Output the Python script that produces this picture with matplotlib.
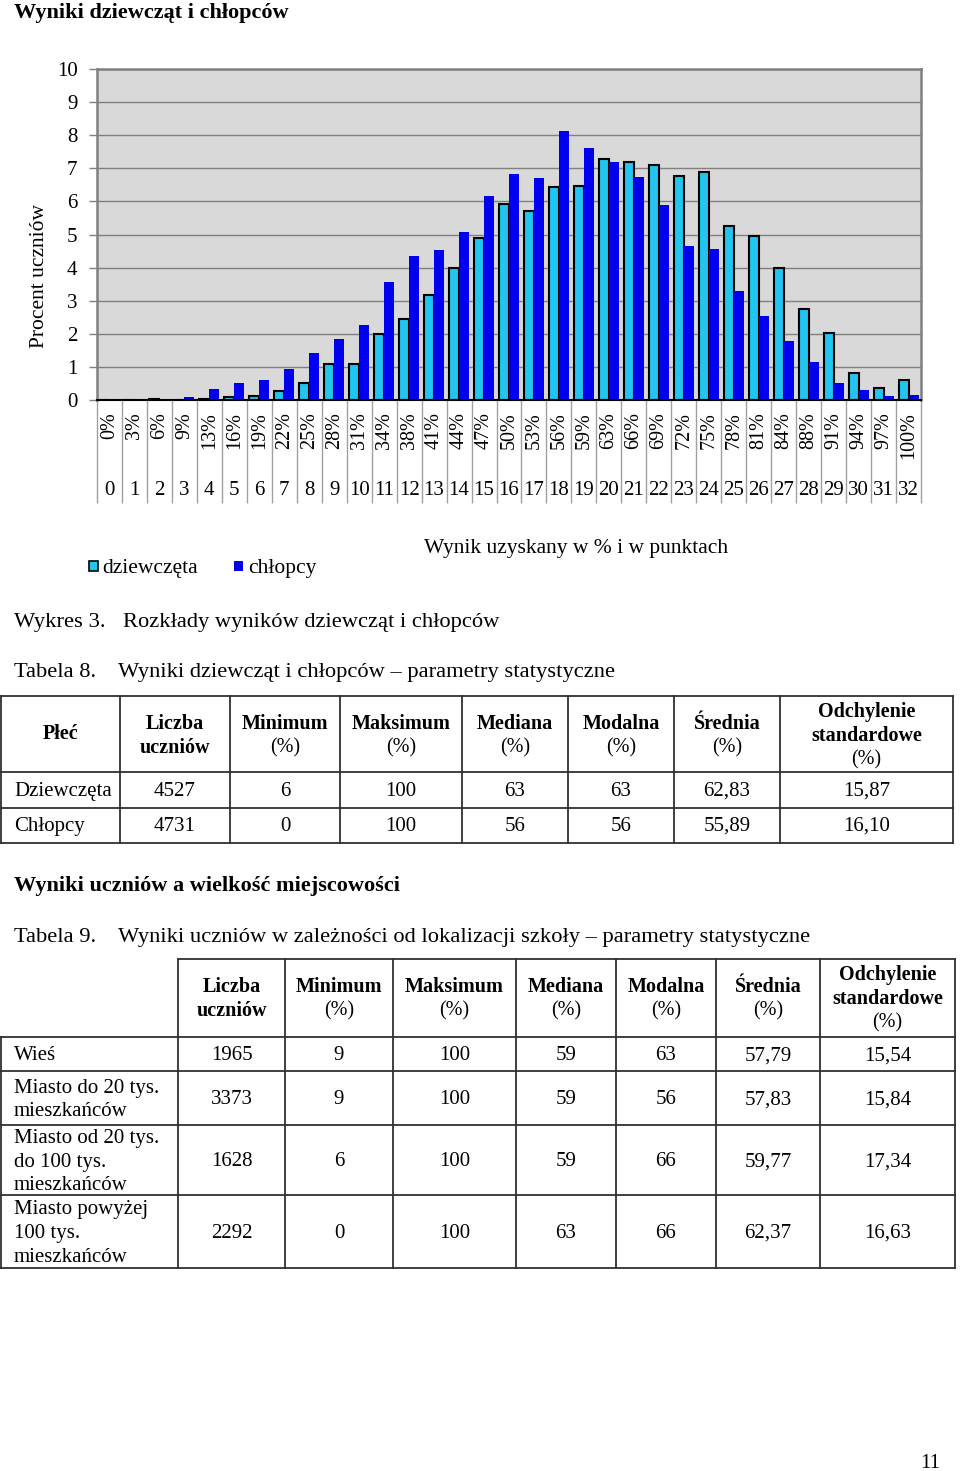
import numpy as np
import matplotlib
matplotlib.use("Agg")
import matplotlib.pyplot as plt
from matplotlib.transforms import blended_transform_factory
from matplotlib.patches import Rectangle

plt.rcParams['font.family'] = ['Liberation Serif', 'DejaVu Serif']

# --- dane wykresu ---
punkty = list(range(33))
procenty = ["0%", "3%", "6%", "9%", "13%", "16%", "19%", "22%", "25%", "28%",
            "31%", "34%", "38%", "41%", "44%", "47%", "50%", "53%", "56%", "59%",
            "63%", "66%", "69%", "72%", "75%", "78%", "81%", "84%", "88%", "91%",
            "94%", "97%", "100%"]
dziewczeta = [0, 0, 0.04, 0, 0.04, 0.08, 0.12, 0.27, 0.51, 1.10,
              1.10, 2.00, 2.46, 3.17, 4.00, 4.88, 5.93, 5.71, 6.44, 6.46,
              7.28, 7.20, 7.11, 6.76, 6.90, 5.25, 4.96, 3.98, 2.75, 2.02,
              0.83, 0.35, 0.59]
chlopcy = [0.02, 0, 0.01, 0.09, 0.34, 0.51, 0.61, 0.95, 1.42, 1.85,
           2.28, 3.57, 4.36, 4.52, 5.07, 6.17, 6.84, 6.72, 8.13, 7.62,
           7.19, 6.74, 5.88, 4.65, 4.55, 3.28, 2.54, 1.79, 1.14, 0.52,
           0.29, 0.12, 0.15]

# --- dane tabel ---
kolumny = ["Liczba\nuczniów", "Minimum\n(%)", "Maksimum\n(%)", "Mediana\n(%)",
           "Modalna\n(%)", "Średnia\n(%)", "Odchylenie\nstandardowe\n(%)"]
plec = ["Dziewczęta", "Chłopcy"]
tab8 = [["4527", "6", "100", "63", "63", "62,83", "15,87"],
        ["4731", "0", "100", "56", "56", "55,89", "16,10"]]
miejscowosci = ["Wieś", "Miasto do 20 tys.\nmieszkańców",
                "Miasto od 20 tys.\ndo 100 tys.\nmieszkańców",
                "Miasto powyżej\n100 tys.\nmieszkańców"]
tab9 = [["1965", "9", "100", "59", "63", "57,79", "15,54"],
        ["3373", "9", "100", "59", "56", "57,83", "15,84"],
        ["1628", "6", "100", "59", "66", "59,77", "17,34"],
        ["2292", "0", "100", "63", "66", "62,37", "16,63"]]

W, H = 960, 1471
fig = plt.figure(figsize=(W / 100, H / 100), dpi=100)
fig.patch.set_facecolor("white")

# strona w pikselach (y w dol)
page = fig.add_axes([0, 0, 1, 1])
page.set_xlim(0, W)
page.set_ylim(H, 0)
page.axis("off")

FS = 15      # tabele, osie
FC = 16.2    # podpisy
FL = 15.5    # legenda
page.text(14, 18, "Wyniki dziewcząt i chłopców", fontsize=16, fontweight="bold",
          va="baseline")

# --- wykres ---
ax = fig.add_axes([97 / W, 1 - 400 / H, 824 / W, 331 / H])
ax.set_facecolor("#D9D9D9")
x = np.array(punkty)
ax.bar(x - 0.2, dziewczeta, width=0.4, color="#22C4F0", edgecolor="black",
       linewidth=1.5, zorder=3, label="dziewczęta")
ax.bar(x + 0.2, chlopcy, width=0.4, color="#0000EE", edgecolor="none",
       zorder=3, label="chłopcy")
ax.set_xlim(-0.5, 32.5)
ax.set_ylim(0, 10)
ax.set_yticks(range(0, 11))
ax.set_xticks([])
ax.yaxis.grid(True, color="#808080", linewidth=1)
ax.set_axisbelow(True)
ax.tick_params(axis="y", direction="out", length=6, width=1, color="#808080",
               pad=8, labelsize=FS)
for s in ["top", "right", "left"]:
    ax.spines[s].set_color("#808080")
    ax.spines[s].set_linewidth(1.8)
ax.spines["bottom"].set_color("black")
ax.spines["bottom"].set_linewidth(1.5)
ax.spines["bottom"].set_zorder(4)
page.text(40, 276, "Procent uczniów", rotation=90, ha="center", va="center",
          fontsize=FL)

trans = blended_transform_factory(ax.transData, page.transData)
ax.vlines(np.arange(-0.5, 33, 1), 400, 503, transform=trans, colors="#A0A0A0",
          linewidth=1, clip_on=False)
for i in punkty:
    ax.text(i, 412, procenty[i], transform=trans, rotation=90, ha="center",
            va="top", fontsize=14.5)
    ax.text(i, 490, str(i), transform=trans, ha="center", va="center",
            fontsize=FS)

# legenda
page.add_patch(Rectangle((89, 561), 9, 10, facecolor="#22C4F0",
                         edgecolor="black", linewidth=1.2))
page.text(102, 573, "dziewczęta", fontsize=FL, va="baseline")
page.add_patch(Rectangle((234, 561), 9, 10, facecolor="#0000EE",
                         edgecolor="none"))
page.text(248, 573, "chłopcy", fontsize=FL, va="baseline")
page.text(424, 553, "Wynik uzyskany w % i w punktach", fontsize=FL,
          va="baseline")

page.text(14, 627, "Wykres 3.", fontsize=FC, va="baseline")
page.text(123, 627, "Rozkłady wyników dziewcząt i chłopców", fontsize=FC,
          va="baseline")
page.text(14, 677, "Tabela 8.", fontsize=FC, va="baseline")
page.text(118, 677, "Wyniki dziewcząt i chłopców – parametry statystyczne",
          fontsize=FC, va="baseline")

LC = "#303030"


def header(xc, yc, tekst):
    linie = tekst.split("\n")
    n = len(linie)
    for k, l in enumerate(linie):
        yy = yc + (k - (n - 1) / 2) * 24
        page.text(xc, yy, l, ha="center", va="center", fontsize=14.5,
                  fontweight="normal" if l == "(%)" else "bold")


def multiline(x0, yc, tekst):
    linie = tekst.split("\n")
    n = len(linie)
    for k, l in enumerate(linie):
        yy = yc + (k - (n - 1) / 2) * 24
        page.text(x0, yy, l, ha="left", va="center", fontsize=FS)


# --- tabela 8 ---
cx8 = [1, 120, 230, 340, 462, 568, 674, 780, 953]
ry8 = [696, 772, 808, 843]
for yy in ry8:
    page.plot([cx8[0], cx8[-1]], [yy, yy], color=LC, lw=1.3)
for xx in cx8:
    page.plot([xx, xx], [ry8[0], ry8[-1]], color=LC, lw=1.3)
header((cx8[0] + cx8[1]) / 2, (ry8[0] + ry8[1]) / 2, "Płeć")
for j, k in enumerate(kolumny):
    header((cx8[j + 1] + cx8[j + 2]) / 2, (ry8[0] + ry8[1]) / 2 + 2, k)
for r, wiersz in enumerate(tab8):
    yc = (ry8[r + 1] + ry8[r + 2]) / 2 + 1
    page.text(14, yc, plec[r], ha="left", va="center", fontsize=FS)
    for j, v in enumerate(wiersz):
        page.text((cx8[j + 1] + cx8[j + 2]) / 2, yc, v, ha="center",
                  va="center", fontsize=FS)

page.text(14, 891, "Wyniki uczniów a wielkość miejscowości", fontsize=16,
          fontweight="bold", va="baseline")
page.text(14, 942, "Tabela 9.", fontsize=FC, va="baseline")
page.text(118, 942,
          "Wyniki uczniów w zależności od lokalizacji szkoły – parametry statystyczne",
          fontsize=FC, va="baseline")

# --- tabela 9 ---
cx9 = [1, 178, 285, 393, 516, 616, 716, 820, 955]
ry9 = [959, 1037, 1071, 1125, 1195, 1268]
page.plot([cx9[1], cx9[-1]], [ry9[0], ry9[0]], color=LC, lw=1.3)
for yy in ry9[1:]:
    page.plot([cx9[0], cx9[-1]], [yy, yy], color=LC, lw=1.3)
page.plot([cx9[0], cx9[0]], [ry9[1], ry9[-1]], color=LC, lw=1.3)
for xx in cx9[1:]:
    page.plot([xx, xx], [ry9[0], ry9[-1]], color=LC, lw=1.3)
for j, k in enumerate(kolumny):
    header((cx9[j + 1] + cx9[j + 2]) / 2, (ry9[0] + ry9[1]) / 2 + 1, k)
for r, wiersz in enumerate(tab9):
    yc = (ry9[r + 1] + ry9[r + 2]) / 2 + 2
    multiline(14, yc, miejscowosci[r])
    for j, v in enumerate(wiersz):
        page.text((cx9[j + 1] + cx9[j + 2]) / 2, yc, v, ha="center",
                  va="center", fontsize=FS)

page.text(930, 1468, "11", fontsize=FS, ha="center", va="baseline")

fig.savefig("out.png", dpi=100, facecolor="white")
